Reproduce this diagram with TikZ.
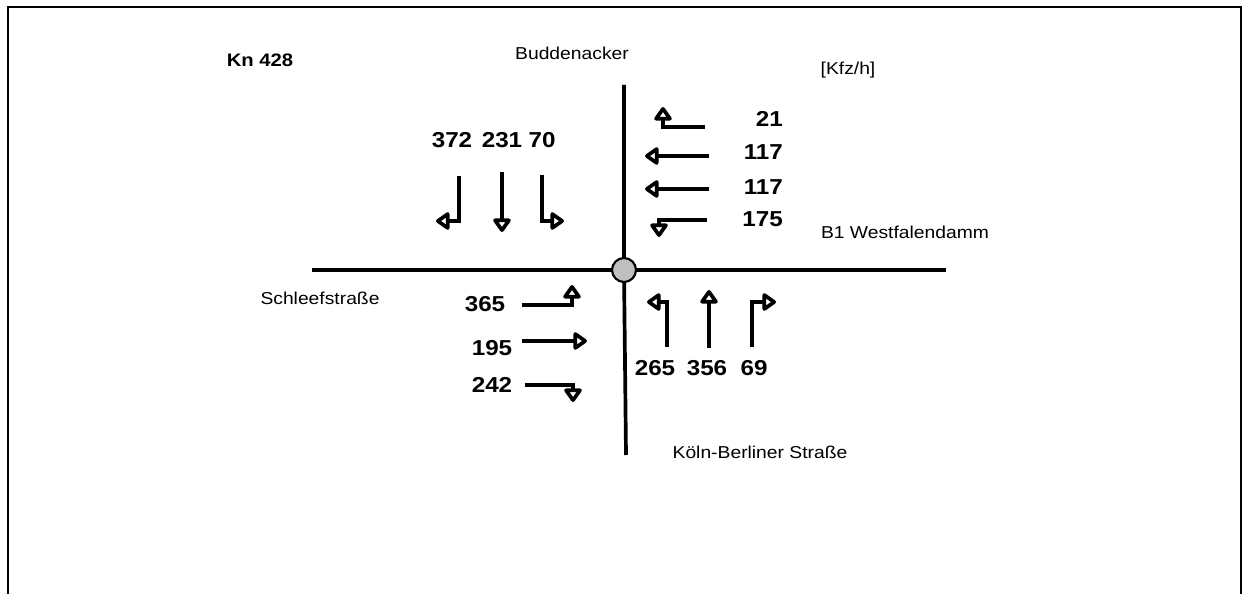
\documentclass[tikz,border=0pt]{standalone}
\usepackage{fontspec}
\setmainfont{Liberation Sans}[FakeStretch=1.12]
\usetikzlibrary{arrows.meta}

\begin{document}
\begin{tikzpicture}[
        x=0.02cm, y=-0.02cm,
        frame/.style={line width=1.3pt},
        road/.style={line width=2.1pt},
        knot/.style={circle, draw=black, line width=1.2pt, fill=black!25, minimum size=0.48cm, inner sep=0pt},
        mv/.style={line width=2.1pt, -{Triangle[open, round, length=3mm, width=4mm]}},
        num/.style={font=\fontsize{12.3}{14}\selectfont\bfseries},
        lbl/.style={font=\fontsize{9.8}{12}\selectfont},
    ]
        \useasboundingbox (0,0) rectangle (1244,594);
        \draw[frame] (8,594) -- (8,7) -- (1241,7) -- (1241,594);

        % titles and street names
        \node[lbl, font=\fontsize{10.3}{12}\selectfont\bfseries] (kn) at (260,60) {Kn 428};
        \node[lbl] (north) at (572,53) {Buddenacker};
        \node[lbl] (unit) at (848,70) {[Kfz/h]};
        \node[lbl] (west) at (320,298) {Schleefstraße};
        \node[lbl] (east) at (905,232) {B1 Westfalendamm};
        \node[lbl] (south) at (760,452) {Köln-Berliner Straße};

        % roads and junction
        \draw[road] (624,85) -- (624,270) -- (626,455);
        \draw[road] (312,270) -- (946,270);
        \node[knot] (kp) at (624,270) {};

        % from north
        \node[num] (n1) at (452,140) {372};
        \node[num] (n2) at (502,140) {231};
        \node[num] (n3) at (542,140) {70};
        \draw[mv] (459,176) |- (436,221);
        \draw[mv] (502,172) -- (502,232);
        \draw[mv] (542,175) |- (564,221);

        % from east
        \node[num, anchor=east] (e1) at (789,119) {21};
        \node[num, anchor=east] (e2) at (789,152) {117};
        \node[num, anchor=east] (e3) at (789,187) {117};
        \node[num, anchor=east] (e4) at (789,219) {175};
        \draw[mv] (705,127) -| (663,107);
        \draw[mv] (709,156) -- (645,156);
        \draw[mv] (709,189) -- (645,189);
        \draw[mv] (707,220) -| (659,237);

        % from west
        \node[num] (w1) at (485,304) {365};
        \node[num] (w2) at (492,348) {195};
        \node[num] (w3) at (492,385) {242};
        \draw[mv] (522,305) -| (572,285);
        \draw[mv] (522,341) -- (587,341);
        \draw[mv] (525,385) -| (573,402);

        % from south
        \node[num] (s1) at (655,368) {265};
        \node[num] (s2) at (707,368) {356};
        \node[num] (s3) at (754,368) {69};
        \draw[mv] (667,347) |- (647,302);
        \draw[mv] (709,348) -- (709,290);
        \draw[mv] (752,347) |- (776,302);
    \end{tikzpicture}
\end{document}
